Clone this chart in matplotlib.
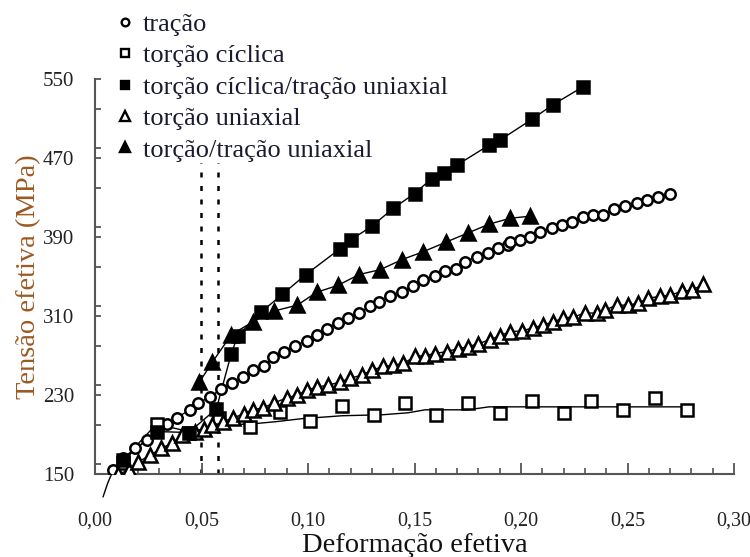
import matplotlib
matplotlib.use("Agg")
import matplotlib.pyplot as plt
from matplotlib.lines import Line2D
from matplotlib.ticker import MultipleLocator, FuncFormatter

plt.rcParams['font.family'] = ['Liberation Serif', 'DejaVu Serif']

# ---------------- data ----------------
tracao_x = [0.0086, 0.0133, 0.0188, 0.0243, 0.0290, 0.0337, 0.0383, 0.0446, 0.0485, 0.0540,
            0.0592, 0.0642, 0.0696, 0.0743, 0.0793, 0.0837, 0.0887, 0.0939, 0.0994, 0.1044,
            0.1091, 0.1142, 0.1189, 0.1241, 0.1291, 0.1335, 0.1385, 0.1440, 0.1491, 0.1538,
            0.1596, 0.1643, 0.1695, 0.1737, 0.1792, 0.1847, 0.1893, 0.1940, 0.1948, 0.1995,
            0.2042, 0.2089, 0.2144, 0.2191, 0.2238, 0.2290, 0.2340, 0.2386, 0.2437, 0.2488,
            0.2543, 0.2590, 0.2645, 0.2700]
tracao_y = [154, 166, 176, 184, 193, 201, 207, 215, 222, 228,
            236, 242, 248, 255, 259, 268, 274, 280, 285, 291,
            297, 303, 308, 313, 320, 324, 330, 334, 340, 346,
            351, 356, 358, 365, 370, 374, 379, 382, 385, 387,
            390, 395, 399, 402, 405, 410, 412, 412, 418, 421,
            424, 427, 431, 434]
# start of the fitted tension curve (extends below the axis)
tracao_tail_x = [0.0038, 0.0060, 0.0086]
tracao_tail_y = [127, 141, 154]

ciclica_x = [0.013, 0.029, 0.044, 0.058, 0.073, 0.087, 0.101, 0.116, 0.131, 0.1455,
             0.160, 0.175, 0.190, 0.205, 0.220, 0.233, 0.248, 0.263, 0.278]
ciclica_y = [161, 201, 192, 207, 198, 213, 204, 219, 210, 222,
             210, 222, 212, 224, 212, 224, 215, 227, 215]
# smoothed curve through the cyclic torsion data
ciclica_fit_x = [0.008, 0.013, 0.020, 0.029, 0.036, 0.044, 0.055, 0.065, 0.075, 0.085,
                 0.097, 0.116, 0.135, 0.147, 0.155, 0.175, 0.185, 0.200, 0.250, 0.278]
ciclica_fit_y = [152, 161, 180, 201, 197, 193, 197, 200, 201, 203,
                 206, 209, 210, 212, 215, 215, 218, 218, 218, 218]

cic_trac_x = [0.013, 0.029, 0.044, 0.057, 0.064, 0.067, 0.078, 0.088, 0.099, 0.115,
              0.120, 0.130, 0.140, 0.150, 0.158, 0.164, 0.170, 0.185, 0.190, 0.205,
              0.215, 0.229]
cic_trac_y = [164, 193, 192, 216, 272, 290, 314, 332, 352, 378,
              387, 401, 419, 434, 449, 455, 463, 483, 488, 509,
              524, 542]

uniax_x = [0.011, 0.016, 0.020, 0.026, 0.031, 0.036, 0.041, 0.047, 0.051, 0.055,
           0.060, 0.065, 0.070, 0.074, 0.079, 0.084, 0.090, 0.095, 0.0995, 0.1041,
           0.1095, 0.1150, 0.1197, 0.1252, 0.1299, 0.1354, 0.1401, 0.1448, 0.1502, 0.1549,
           0.1596, 0.1651, 0.1706, 0.1753, 0.1800, 0.1854, 0.1901, 0.1948, 0.2003, 0.2058,
           0.2105, 0.2152, 0.2199, 0.2246, 0.2300, 0.2355, 0.2394, 0.2449, 0.2504, 0.2551,
           0.2598, 0.2653, 0.2700, 0.2754, 0.2801, 0.2856]
uniax_y = [150, 154, 162, 169, 176, 181, 189, 193, 196, 200,
           203, 207, 211, 215, 217, 222, 227, 230, 235, 238,
           240, 243, 247, 250, 255, 259, 260, 262, 269, 270,
           272, 274, 277, 279, 282, 286, 290, 294, 295, 298,
           301, 304, 308, 309, 313, 313, 316, 321, 321, 323,
           328, 330, 331, 335, 336, 342]

tor_trac_x = [0.049, 0.055, 0.064, 0.074, 0.084, 0.095, 0.104, 0.114, 0.124, 0.134,
              0.144, 0.154, 0.165, 0.175, 0.185, 0.195, 0.204]
tor_trac_y = [243, 263, 291, 304, 315, 321, 334, 341, 352, 357,
              367, 375, 385, 394, 403, 409, 411]

dotted_x = [0.0496, 0.0579]
dotted_y = [150, 465]

labels = ["tração", "torção cíclica", "torção cíclica/tração uniaxial",
          "torção uniaxial", "torção/tração uniaxial"]
x_ticks = [0.00, 0.05, 0.10, 0.15, 0.20, 0.25, 0.30]
y_ticks = [150, 230, 310, 390, 470, 550]

# ---------------- figure ----------------
fig = plt.figure(figsize=(7.5, 5.57), dpi=100)
ax = fig.add_axes([95/750, 1-474/557, (734-95)/750, (474-79)/557])

lw = 1.0
mew = 1.8
k = 'black'

ax.vlines(dotted_x, dotted_y[0], dotted_y[1], colors=k, linewidth=1.8,
          linestyles=(0, (2.0, 3.4)), zorder=1)

# lines
ax.plot(tracao_tail_x + tracao_x, tracao_tail_y + tracao_y, color=k, lw=lw, clip_on=False, zorder=2)
ax.plot(ciclica_fit_x, ciclica_fit_y, color=k, lw=lw, zorder=2)
ax.plot(cic_trac_x, cic_trac_y, color=k, lw=lw, zorder=2)
ax.plot(uniax_x, uniax_y, color=k, lw=lw, zorder=2)
ax.plot(tor_trac_x, tor_trac_y, color=k, lw=lw, zorder=2)

# markers
ax.plot(tracao_x, tracao_y, ls='none', marker='o', ms=7.5, mfc='white', mec=k, mew=mew, zorder=3)
ax.plot(ciclica_x, ciclica_y, ls='none', marker='s', ms=9, mfc='white', mec=k, mew=mew, zorder=3)
ax.plot(uniax_x, uniax_y, ls='none', marker='^', ms=10, mfc='white', mec=k, mew=mew, zorder=3)
ax.plot(cic_trac_x, cic_trac_y, ls='none', marker='s', ms=9, mfc=k, mec=k, mew=mew, zorder=4)
ax.plot(tor_trac_x, tor_trac_y, ls='none', marker='^', ms=10.5, mfc=k, mec=k, mew=mew, zorder=4)

ax.set_xlim(0, 0.30)
ax.set_ylim(150, 550)

for s in ['top', 'right']:
    ax.spines[s].set_visible(False)
for s in ['left', 'bottom']:
    ax.spines[s].set_color('#555555')
    ax.spines[s].set_linewidth(1.5)

ax.set_xticks(x_ticks)
ax.xaxis.set_minor_locator(MultipleLocator(0.01))
ax.xaxis.set_major_formatter(FuncFormatter(lambda v, p: f"{v:.2f}".replace('.', ',')))
ax.set_yticks(y_ticks)
ax.yaxis.set_minor_locator(MultipleLocator(40))

ax.tick_params(axis='x', which='major', direction='in', length=8, width=1.3, color='#555555',
               labelsize=14.5, pad=27, labelcolor='#222222')
ax.tick_params(axis='x', which='minor', direction='in', length=4, width=1.2, color='#555555')
ax.tick_params(axis='y', which='both', direction='in', length=4, width=1.3, color='#555555',
               labelsize=15, pad=15, labelcolor='#222222')

ax.set_xlabel("Deformação efetiva", fontsize=20.5, color='#111111', labelpad=1.5)
ax.set_ylabel("Tensão efetiva (MPa)", fontsize=20.5, color='#9a5a22', labelpad=1)

handles = [
    Line2D([], [], ls='none', marker='o', ms=5.5, mfc='white', mec=k, mew=1.7),
    Line2D([], [], ls='none', marker='s', ms=5.5, mfc='white', mec=k, mew=1.7),
    Line2D([], [], ls='none', marker='s', ms=6, mfc=k, mec=k, mew=1.7),
    Line2D([], [], ls='none', marker='^', ms=6.5, mfc='white', mec=k, mew=1.7),
    Line2D([], [], ls='none', marker='^', ms=7, mfc=k, mec=k, mew=1.7),
]
leg = fig.legend(handles, labels, loc='upper left', bbox_to_anchor=(114.5/750, 1-12.5/557),
                 bbox_transform=fig.transFigure, frameon=False, fontsize=19,
                 handlelength=0.8, handletextpad=0.28, labelspacing=0.3,
                 borderpad=0, borderaxespad=0)
for t in leg.get_texts():
    t.set_color('#1a1a30')

fig.savefig("out.png", dpi=100)
